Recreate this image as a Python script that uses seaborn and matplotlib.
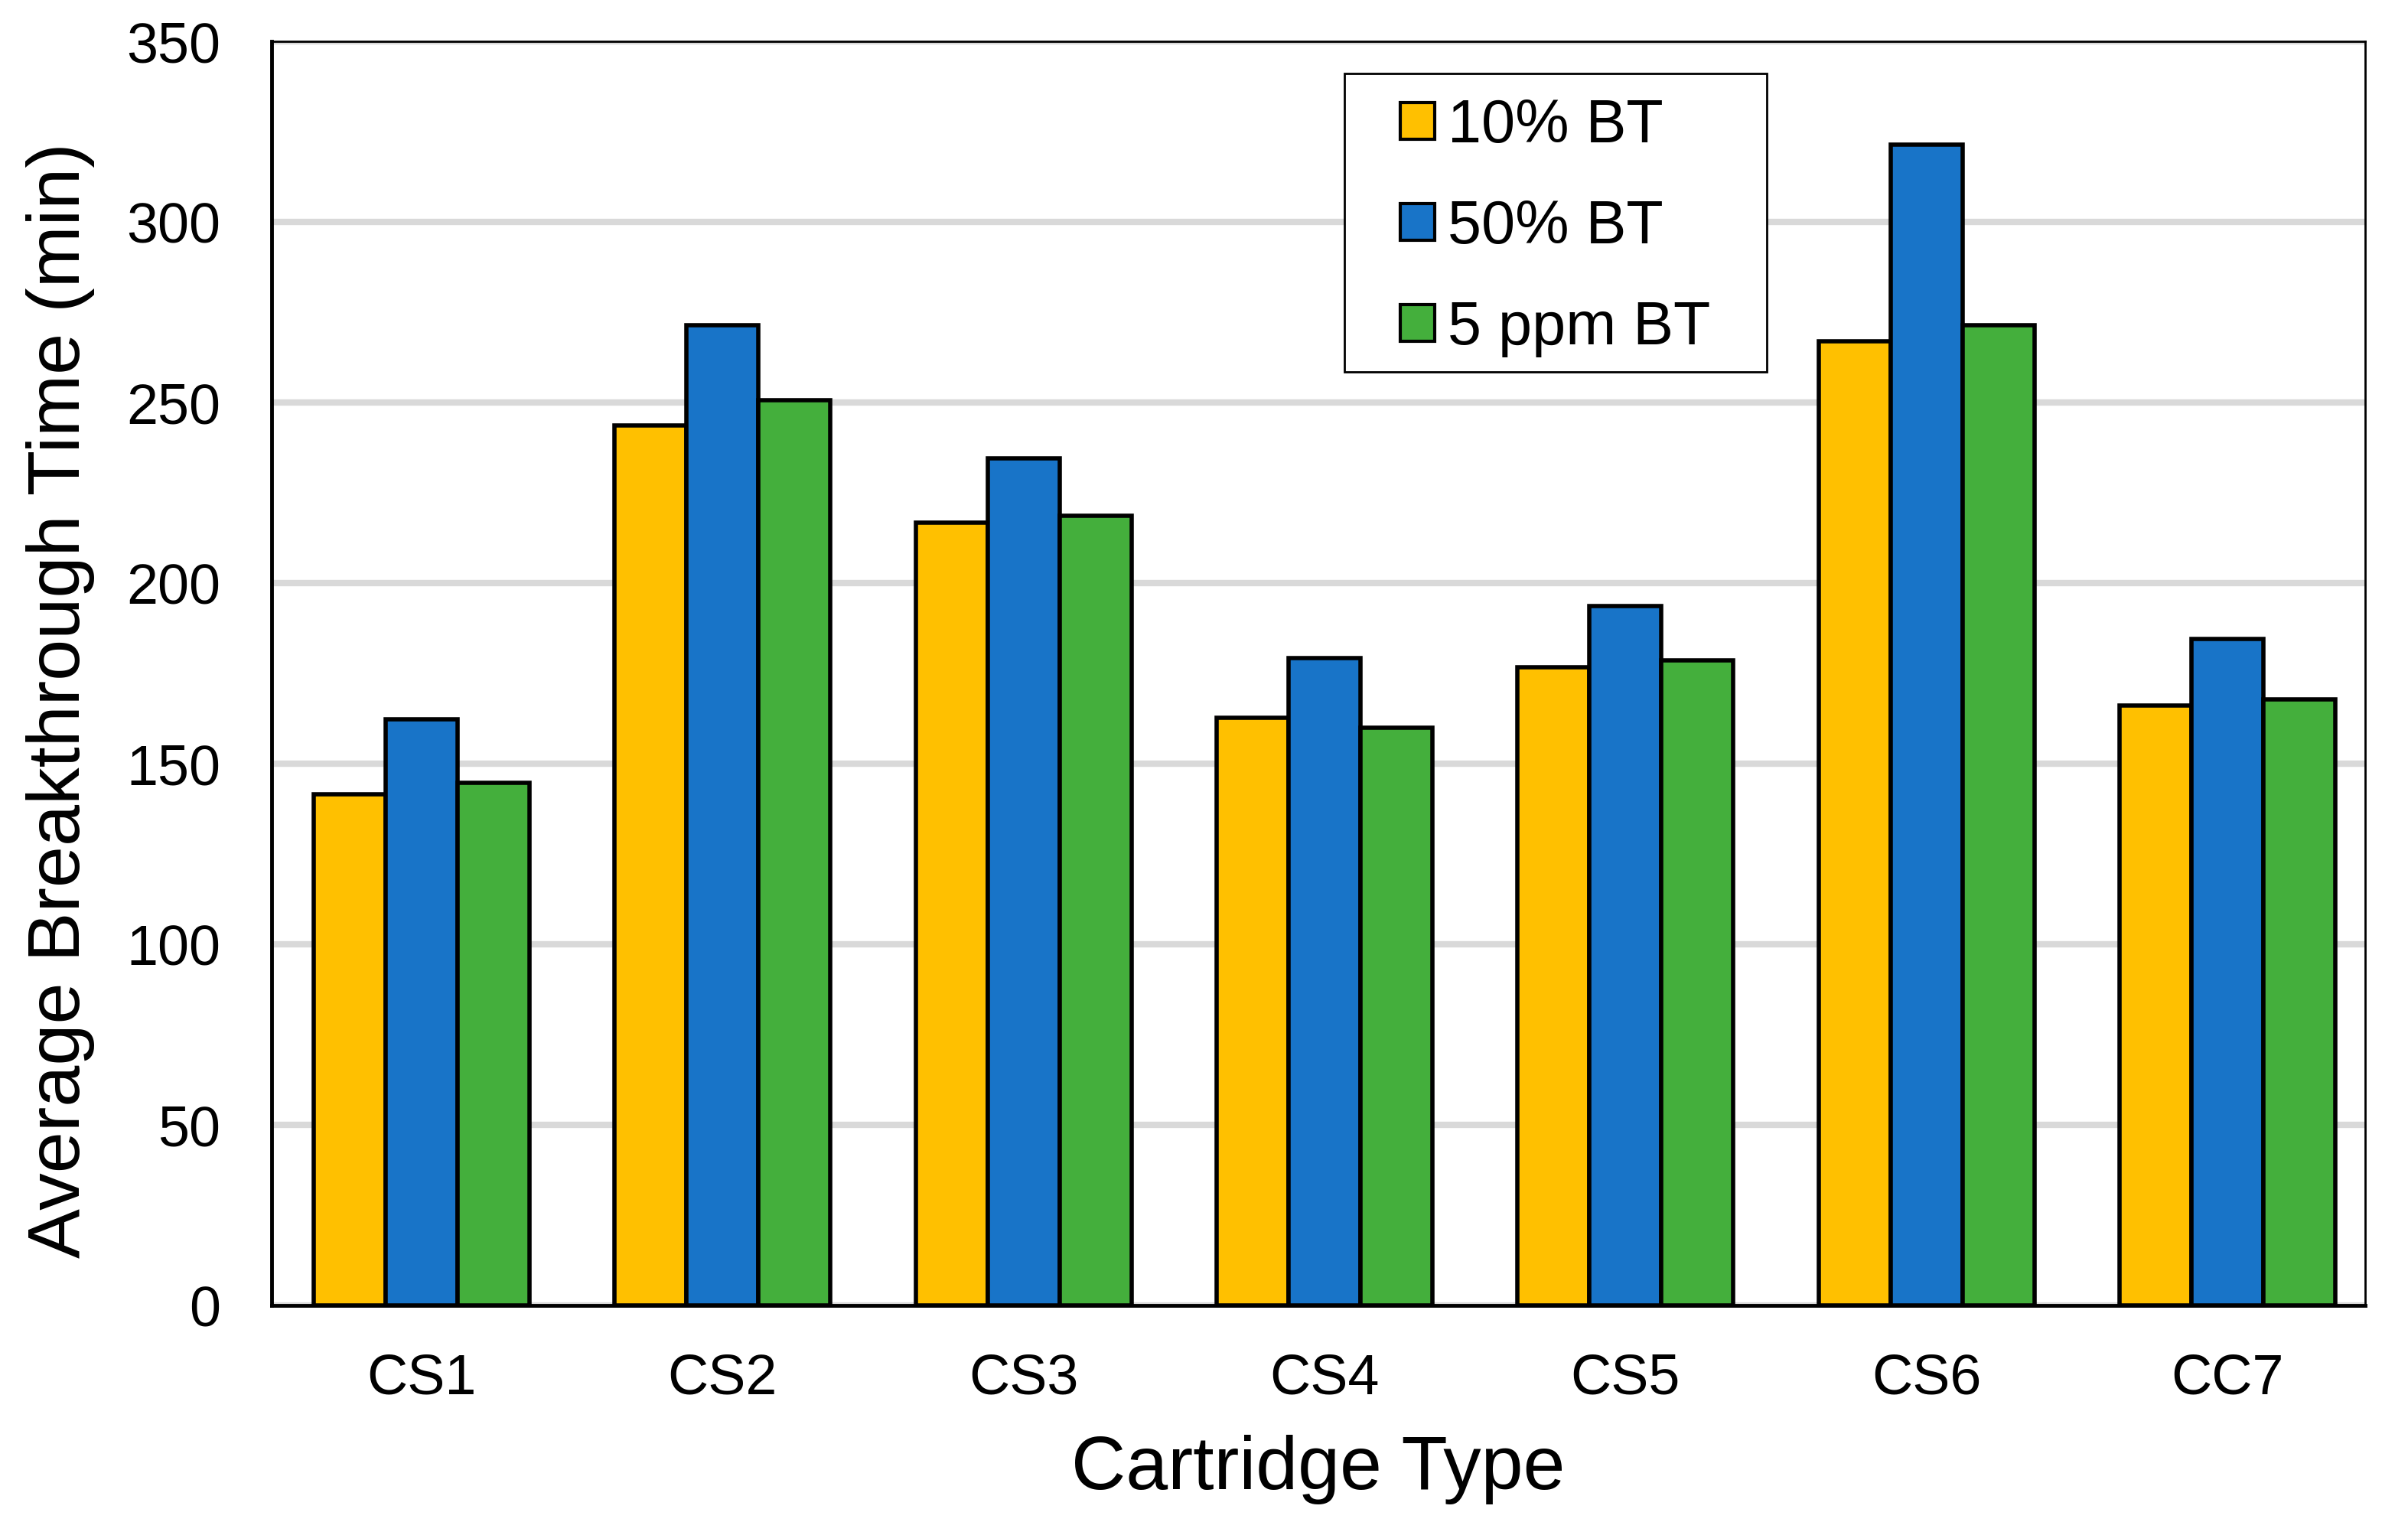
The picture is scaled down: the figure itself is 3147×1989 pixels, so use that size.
import matplotlib
matplotlib.use('Agg')
import matplotlib.pyplot as plt
import seaborn as sns
import pandas as pd
from matplotlib.patches import Rectangle

# Data
cartridges = ['CS1', 'CS2', 'CS3', 'CS4', 'CS5', 'CS6', 'CC7']
series_names = ['10% BT', '50% BT', '5 ppm BT']
bt_10 = [141.5, 243.7, 216.8, 162.8, 176.6, 266.9, 166.2]
bt_50 = [162.3, 271.5, 234.5, 179.2, 193.7, 321.5, 184.5]
bt_5ppm = [144.8, 250.7, 218.7, 160.0, 178.6, 271.5, 167.9]
y_ticks = [0, 50, 100, 150, 200, 250, 300, 350]

colors = ['#FFC000', '#1874C8', '#44AF3C']


def build_frame():
    """Long format table for seaborn."""
    rows = []
    for name, vals in zip(series_names, [bt_10, bt_50, bt_5ppm]):
        for cart, v in zip(cartridges, vals):
            rows.append({'Cartridge': cart, 'Series': name, 'Time': v})
    return pd.DataFrame(rows)


def main():
    sns.set_style('white')
    plt.rcParams['font.family'] = ['Liberation Sans', 'DejaVu Sans']
    for key in ['text.color', 'axes.labelcolor', 'xtick.color', 'ytick.color']:
        plt.rcParams[key] = 'black'

    df = build_frame()

    fig = plt.figure(figsize=(31.47, 19.89), dpi=100)
    ax = fig.add_axes([355 / 3147, 1 - 1706 / 1989, 2736 / 3147, 1652 / 1989])

    sns.barplot(data=df, x='Cartridge', y='Time', hue='Series',
                hue_order=series_names, order=cartridges,
                palette=colors, width=0.717, edgecolor='black',
                linewidth=4, saturation=1, errorbar=None, ax=ax)

    # Grid and axes
    ax.set_axisbelow(True)
    ax.yaxis.grid(True, color='#D9D9D9', linewidth=6)
    ax.set_ylim(0, 350)
    ax.set_xlim(-0.498, 6.458)
    ax.set_yticks(y_ticks)
    ax.set_yticklabels([str(t) for t in y_ticks])
    ax.tick_params(axis='both', length=0, labelsize=53)
    ax.tick_params(axis='y', pad=48)
    ax.tick_params(axis='x', pad=44)

    for side in ['left', 'bottom']:
        ax.spines[side].set_linewidth(3.5)
        ax.spines[side].set_color('black')
    for side in ['top', 'right']:
        ax.spines[side].set_linewidth(2)
        ax.spines[side].set_color('black')

    ax.set_xlabel('Cartridge Type', fontsize=71, labelpad=28)
    ax.set_ylabel('Average Breakthrough Time (min)', fontsize=70, labelpad=30)
    ax.yaxis.label.set_y(0.479)

    # Legend: fixed box like the original, entries centred inside
    box_l, box_r, box_b, box_t = 0.5125, 0.714, 0.7384, 0.9745
    ax.add_patch(Rectangle((box_l, box_b), box_r - box_l, box_t - box_b,
                           transform=ax.transAxes, facecolor='white',
                           edgecolor='black', linewidth=2, zorder=5))
    handles, labels = ax.get_legend_handles_labels()
    leg = ax.legend(handles, labels, loc='center',
                    bbox_to_anchor=((box_l + box_r) / 2,
                                    (box_b + box_t) / 2 - 0.0036),
                    fontsize=57, frameon=False,
                    handlelength=0.56, handleheight=0.56, handletextpad=0.22,
                    labelspacing=0.72, borderpad=0, borderaxespad=0)
    leg.set_zorder(6)
    for h in leg.legend_handles:
        h.set_edgecolor('black')
        h.set_linewidth(3)

    plt.savefig('out.png', dpi=100)
    plt.close()


if __name__ == '__main__':
    main()
